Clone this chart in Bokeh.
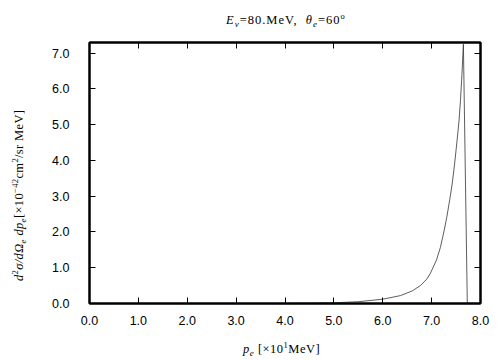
from bokeh.plotting import figure
from bokeh.models import (LinearAxis, SingleIntervalTicker, PrintfTickFormatter,
                          Range1d, ColumnDataSource, Div)
from bokeh.layouts import column, row
from bokeh.embed import file_html
from bokeh.resources import INLINE

# ---- data ----
p_e = [0.0, 4.0, 4.5, 5.0, 5.5, 6.0, 6.36, 6.6, 6.77, 6.9, 6.97, 7.1, 7.18, 7.25,
       7.31, 7.37, 7.42, 7.47, 7.52, 7.56, 7.59, 7.62, 7.65, 7.73]
xsec = [0.0, 0.0, 0.005, 0.02, 0.05, 0.12, 0.22, 0.35, 0.50, 0.68, 0.83, 1.22, 1.57, 2.0,
        2.41, 2.9, 3.34, 3.9, 4.55, 5.1, 5.67, 6.4, 7.25, 0.0]
x_limits = (0.0, 8.0)
y_limits = (0.0, 7.3)
tick_step = 1.0

SERIF = "'Liberation Serif', 'Times New Roman', serif"
SANS = "Liberation Sans"

# ---- main plot ----
p = figure(width=464, height=298, output_backend="svg", toolbar_location=None,
           x_range=Range1d(*x_limits), y_range=Range1d(*y_limits),
           x_axis_location=None, y_axis_location=None,
           min_border_left=49, min_border_right=24, min_border_top=12, min_border_bottom=25,
           margin=0)
p.grid.visible = False
p.background_fill_color = "white"
p.border_fill_color = "white"
p.outline_line_color = "black"
p.outline_line_width = 2

def make_axis(show_labels):
    ax = LinearAxis(ticker=SingleIntervalTicker(interval=tick_step),
                    formatter=PrintfTickFormatter(format="%.1f"))
    ax.axis_line_color = "black"
    ax.axis_line_width = 2
    ax.major_tick_in = 6
    ax.major_tick_out = 0
    ax.major_tick_line_color = "black"
    ax.major_tick_line_width = 1
    ax.minor_tick_line_color = None
    ax.major_label_text_font = SANS
    ax.major_label_text_color = "black"
    if show_labels:
        ax.major_label_text_font_size = "12.5px"
    else:
        ax.major_label_text_color = None
        ax.major_label_text_font_size = "1px"
        ax.major_label_standoff = 0
    return ax

bottom = make_axis(True)
bottom.major_label_standoff = 8
left = make_axis(True)
left.major_label_standoff = 16
top = make_axis(False)
right = make_axis(False)
p.add_layout(bottom, "below")
p.add_layout(left, "left")
p.add_layout(top, "above")
p.add_layout(right, "right")

src = ColumnDataSource(dict(x=p_e, y=xsec))
p.line("x", "y", source=src, line_color="#333333", line_width=0.8)

# ---- rich texts as HTML ----
SUB = "font-size:9px;position:relative;top:3px;"
SUP = "font-size:8.5px;position:relative;top:-5px;"
BASE = (f"font-family:{SERIF};font-size:12.5px;line-height:13px;white-space:nowrap;"
        "color:black;")

title_html = (
    f'<div style="{BASE}letter-spacing:1px;padding-left:226px;padding-top:14px;">'
    f'<i>E</i><span style="{SUB}"><i>ν</i></span>=80.MeV,&nbsp;&nbsp;'
    f'<i>θ</i><span style="{SUB}"><i>e</i></span>=60<span style="{SUP}">o</span></div>'
)
xlabel_html = (
    f'<div style="{BASE}letter-spacing:0.5px;padding-left:243px;padding-top:15px;">'
    f'<i>p</i><span style="{SUB}"><i>e</i></span> [×10<span style="{SUP}">1</span>MeV]</div>'
)
# rotated: text starts at page y=277 (div top at page y=30)
ylabel_html = (
    f'<div style="{BASE}letter-spacing:0.35px;display:inline-block;transform-origin:0 0;'
    f'transform:translate(13px,249px) rotate(-90deg);">'
    f'<i>d</i><span style="{SUP}">2</span><i>σ/d</i><i>Ω</i><span style="{SUB}"><i>e</i></span>'
    f' <i>dp</i><span style="{SUB}"><i>e</i></span>[×10<span style="{SUP}">−42</span>cm'
    f'<span style="{SUP}">2</span>/sr MeV]</div>'
)

title_div = Div(text=title_html, width=504, height=30, margin=0)
ylabel_div = Div(text=ylabel_html, width=40, height=298, margin=0)
xlabel_div = Div(text=xlabel_html, width=504, height=32, margin=0)

layout = column(title_div, row(ylabel_div, p, spacing=0, margin=0), xlabel_div,
                spacing=0, margin=0)

open("out.html", "w").write(file_html(layout, INLINE))
